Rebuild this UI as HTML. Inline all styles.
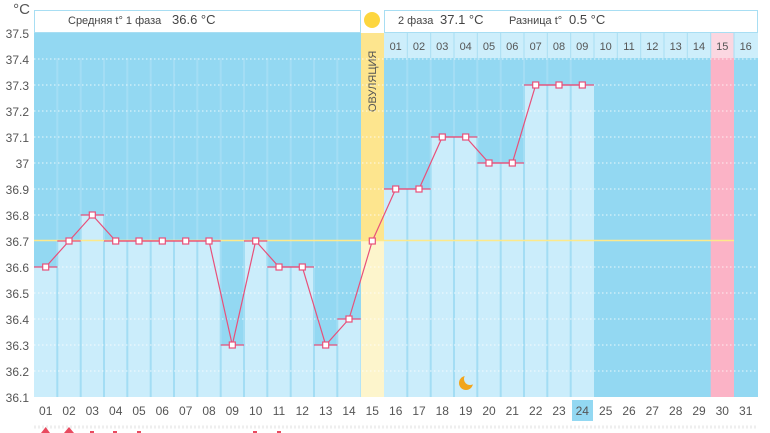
<!DOCTYPE html>
<html><head><meta charset="utf-8"><style>
body{margin:0;background:#fff;}
svg{display:block;font-family:"Liberation Sans","DejaVu Sans",sans-serif;}
</style></head><body>
<svg width="770" height="433" viewBox="0 0 770 433" xmlns="http://www.w3.org/2000/svg">
<rect x="34" y="33" width="724" height="364" fill="#93d8f2"/>
<!-- header -->
<rect x="34.5" y="10.5" width="326" height="22" fill="#fff" stroke="#a8def3"/>
<rect x="384.5" y="10.5" width="373" height="22" fill="#fff" stroke="#a8def3"/>
<text x="68" y="24" font-size="11" fill="#444">Средняя t° 1 фаза</text>
<text x="172" y="24" font-size="13" fill="#444">36.6 °C</text>
<text x="398" y="24" font-size="11" fill="#444">2 фаза</text>
<text x="440" y="24" font-size="13" fill="#444">37.1 °C</text>
<text x="509" y="24" font-size="11" fill="#444">Разница t°</text>
<text x="569" y="24" font-size="13" fill="#444">0.5 °C</text>
<circle cx="372" cy="20" r="8" fill="#fdd63f"/>
<!-- ovulation column -->
<rect x="361" y="33" width="23" height="208" fill="#fde58e"/>
<rect x="361" y="241" width="23" height="156" fill="#fdf5cc"/>
<text transform="translate(376,112) rotate(-90)" font-size="11" fill="#555">ОВУЛЯЦИЯ</text>
<!-- light bars -->
<g fill="#cbedfb">
<rect x="34" y="267" width="23.3" height="130"/>
<rect x="57.3" y="241" width="23.3" height="156"/>
<rect x="80.7" y="215" width="23.3" height="182"/>
<rect x="104" y="241" width="116.7" height="156"/>
<rect x="220.7" y="345" width="23.3" height="52"/>
<rect x="244" y="241" width="23.3" height="156"/>
<rect x="267.3" y="267" width="46.7" height="130"/>
<rect x="314" y="345" width="23.3" height="52"/>
<rect x="337.3" y="319" width="23.3" height="78"/>
<rect x="384" y="189" width="46.7" height="208"/>
<rect x="430.7" y="137" width="46.7" height="260"/>
<rect x="477.3" y="163" width="46.7" height="234"/>
<rect x="524" y="85" width="70" height="312"/>
</g>
<!-- pink column -->
<rect x="710.7" y="58" width="23.3" height="339" fill="#fbb3c6"/>
<!-- phase 2 header row -->
<g fill="#cdeefb"><rect x="384" y="33" width="374" height="25"/></g>
<rect x="710.7" y="33" width="23.3" height="25" fill="#fbd7e1"/>
<g stroke="#a8def3" stroke-width="1">
<line x1="407.3" y1="33" x2="407.3" y2="58"/><line x1="430.7" y1="33" x2="430.7" y2="58"/><line x1="454" y1="33" x2="454" y2="58"/><line x1="477.3" y1="33" x2="477.3" y2="58"/><line x1="500.7" y1="33" x2="500.7" y2="58"/><line x1="524" y1="33" x2="524" y2="58"/><line x1="547.3" y1="33" x2="547.3" y2="58"/><line x1="570.7" y1="33" x2="570.7" y2="58"/><line x1="594" y1="33" x2="594" y2="58"/><line x1="617.3" y1="33" x2="617.3" y2="58"/><line x1="640.7" y1="33" x2="640.7" y2="58"/><line x1="664" y1="33" x2="664" y2="58"/><line x1="687.3" y1="33" x2="687.3" y2="58"/><line x1="710.7" y1="33" x2="710.7" y2="58"/><line x1="734" y1="33" x2="734" y2="58"/>
</g>
<g font-size="11" fill="#555" text-anchor="middle">
<text x="395.7" y="50">01</text><text x="419" y="50">02</text><text x="442.3" y="50">03</text><text x="465.7" y="50">04</text><text x="489" y="50">05</text><text x="512.3" y="50">06</text><text x="535.7" y="50">07</text><text x="559" y="50">08</text><text x="582.3" y="50">09</text><text x="605.7" y="50">10</text><text x="629" y="50">11</text><text x="652.3" y="50">12</text><text x="675.7" y="50">13</text><text x="699" y="50">14</text><text x="722.3" y="50">15</text><text x="745.7" y="50">16</text>
</g>
<!-- column separators -->
<g stroke="#a3ddf4" stroke-width="2">
<line x1="57.3" y1="58" x2="57.3" y2="397"/><line x1="80.7" y1="58" x2="80.7" y2="397"/><line x1="104" y1="58" x2="104" y2="397"/><line x1="127.3" y1="58" x2="127.3" y2="397"/><line x1="150.7" y1="58" x2="150.7" y2="397"/><line x1="174" y1="58" x2="174" y2="397"/><line x1="197.3" y1="58" x2="197.3" y2="397"/><line x1="220.7" y1="58" x2="220.7" y2="397"/><line x1="244" y1="58" x2="244" y2="397"/><line x1="267.3" y1="58" x2="267.3" y2="397"/><line x1="290.7" y1="58" x2="290.7" y2="397"/><line x1="314" y1="58" x2="314" y2="397"/><line x1="337.3" y1="58" x2="337.3" y2="397"/><line x1="407.3" y1="58" x2="407.3" y2="397"/><line x1="430.7" y1="58" x2="430.7" y2="397"/><line x1="454" y1="58" x2="454" y2="397"/><line x1="477.3" y1="58" x2="477.3" y2="397"/><line x1="500.7" y1="58" x2="500.7" y2="397"/><line x1="524" y1="58" x2="524" y2="397"/><line x1="547.3" y1="58" x2="547.3" y2="397"/><line x1="570.7" y1="58" x2="570.7" y2="397"/>
</g>
<!-- dotted grid -->
<g stroke="#fff" stroke-width="1" stroke-dasharray="1.5,2.5" opacity="0.8">
<line x1="34" y1="59" x2="758" y2="59"/><line x1="34" y1="85" x2="758" y2="85"/><line x1="34" y1="111" x2="758" y2="111"/><line x1="34" y1="137" x2="758" y2="137"/><line x1="34" y1="163" x2="758" y2="163"/><line x1="34" y1="189" x2="758" y2="189"/><line x1="34" y1="215" x2="758" y2="215"/><line x1="34" y1="267" x2="758" y2="267"/><line x1="34" y1="293" x2="758" y2="293"/><line x1="34" y1="319" x2="758" y2="319"/><line x1="34" y1="345" x2="758" y2="345"/><line x1="34" y1="371" x2="758" y2="371"/>
</g>
<line x1="34" y1="240.5" x2="734" y2="240.5" stroke="#fde98a" stroke-width="1.5"/>
<!-- value ticks -->
<g stroke="#e8507a" stroke-width="1.3">
<line x1="34" y1="267" x2="57.3" y2="267"/><line x1="57.3" y1="241" x2="80.7" y2="241"/><line x1="80.7" y1="215" x2="104" y2="215"/><line x1="104" y1="241" x2="220.7" y2="241"/><line x1="220.7" y1="345" x2="244" y2="345"/><line x1="244" y1="241" x2="267.3" y2="241"/><line x1="267.3" y1="267" x2="314" y2="267"/><line x1="314" y1="345" x2="337.3" y2="345"/><line x1="337.3" y1="319" x2="360.7" y2="319"/><line x1="384" y1="189" x2="430.7" y2="189"/><line x1="430.7" y1="137" x2="477.3" y2="137"/><line x1="477.3" y1="163" x2="524" y2="163"/><line x1="524" y1="85" x2="594" y2="85"/>
</g>
<polyline fill="none" stroke="#e8507a" stroke-width="1.2" points="45.7,267 69,241 92.3,215 115.7,241 139,241 162.3,241 185.7,241 209,241 232.3,345 255.7,241 279,267 302.3,267 325.7,345 349,319 372.3,241 395.7,189 419,189 442.3,137 465.7,137 489,163 512.3,163 535.7,85 559,85 582.3,85"/>
<g fill="#fff" stroke="#e8507a" stroke-width="1.2">
<rect x="42.7" y="264" width="6" height="6"/><rect x="66" y="238" width="6" height="6"/><rect x="89.3" y="212" width="6" height="6"/><rect x="112.7" y="238" width="6" height="6"/><rect x="136" y="238" width="6" height="6"/><rect x="159.3" y="238" width="6" height="6"/><rect x="182.7" y="238" width="6" height="6"/><rect x="206" y="238" width="6" height="6"/><rect x="229.3" y="342" width="6" height="6"/><rect x="252.7" y="238" width="6" height="6"/><rect x="276" y="264" width="6" height="6"/><rect x="299.3" y="264" width="6" height="6"/><rect x="322.7" y="342" width="6" height="6"/><rect x="346" y="316" width="6" height="6"/><rect x="369.3" y="238" width="6" height="6"/><rect x="392.7" y="186" width="6" height="6"/><rect x="416" y="186" width="6" height="6"/><rect x="439.3" y="134" width="6" height="6"/><rect x="462.7" y="134" width="6" height="6"/><rect x="486" y="160" width="6" height="6"/><rect x="509.3" y="160" width="6" height="6"/><rect x="532.7" y="82" width="6" height="6"/><rect x="556" y="82" width="6" height="6"/><rect x="579.3" y="82" width="6" height="6"/>
</g>
<!-- moon -->
<circle cx="466" cy="383" r="7" fill="#f2a51c"/>
<circle cx="470" cy="379" r="6" fill="#cbedfb"/>
<!-- y axis -->
<g font-size="12" fill="#555" text-anchor="end">
<text x="30" y="14" font-size="15" text-anchor="end">°C</text>
<text x="29" y="38">37.5</text><text x="29" y="64">37.4</text><text x="29" y="90">37.3</text><text x="29" y="116">37.2</text><text x="29" y="142">37.1</text><text x="29" y="168">37</text><text x="29" y="194">36.9</text><text x="29" y="220">36.8</text><text x="29" y="246">36.7</text><text x="29" y="272">36.6</text><text x="29" y="298">36.5</text><text x="29" y="324">36.4</text><text x="29" y="350">36.3</text><text x="29" y="376">36.2</text><text x="29" y="402">36.1</text>
</g>
<!-- x axis -->
<rect x="572" y="400" width="21" height="21" fill="#93d8f2"/>
<g font-size="12" fill="#555" text-anchor="middle">
<text x="45.7" y="415">01</text><text x="69" y="415">02</text><text x="92.3" y="415">03</text><text x="115.7" y="415">04</text><text x="139" y="415">05</text><text x="162.3" y="415">06</text><text x="185.7" y="415">07</text><text x="209" y="415">08</text><text x="232.3" y="415">09</text><text x="255.7" y="415">10</text><text x="279" y="415">11</text><text x="302.3" y="415">12</text><text x="325.7" y="415">13</text><text x="349" y="415">14</text><text x="372.3" y="415">15</text><text x="395.7" y="415">16</text><text x="419" y="415">17</text><text x="442.3" y="415">18</text><text x="465.7" y="415">19</text><text x="489" y="415">20</text><text x="512.3" y="415">21</text><text x="535.7" y="415">22</text><text x="559" y="415">23</text><text x="582.3" y="415">24</text><text x="605.7" y="415">25</text><text x="629" y="415">26</text><text x="652.3" y="415">27</text><text x="675.7" y="415">28</text><text x="699" y="415">29</text><text x="722.3" y="415">30</text><text x="745.7" y="415">31</text>
</g>
<line x1="34" y1="427" x2="758" y2="427" stroke="#eee" stroke-width="3" stroke-dasharray="2,2"/>
<g fill="#e84a5f">
<polygon points="45.7,427 41,433 50,433"/><polygon points="69,427 64,433 74,433"/>
<rect x="90" y="431" width="4" height="2"/><rect x="113" y="431" width="4" height="2"/><rect x="137" y="431" width="4" height="2"/><rect x="253" y="431" width="4" height="2"/><rect x="277" y="431" width="4" height="2"/>
</g>
</svg>
</body></html>
